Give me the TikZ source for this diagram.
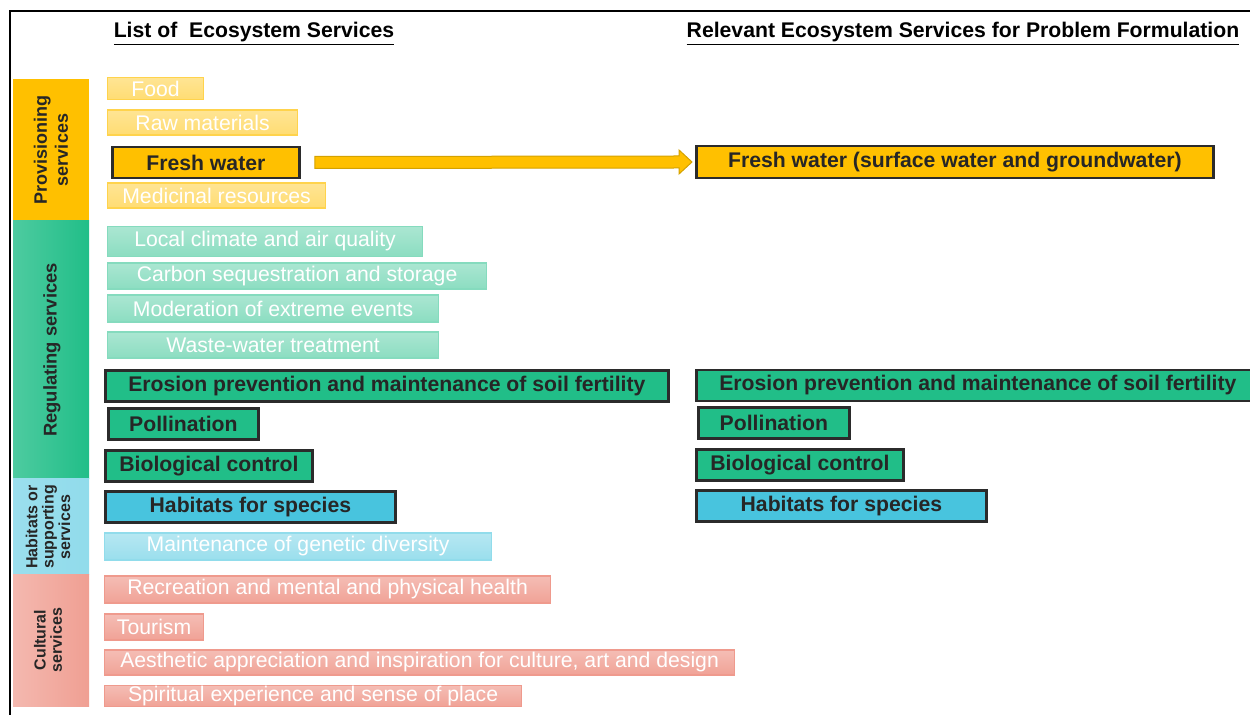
\documentclass[tikz,border=0pt]{standalone}
\usepackage{fontspec}
\setmainfont{Liberation Sans}
\usetikzlibrary{calc}
\usepackage{xcolor}

\definecolor{provgold}{HTML}{FFC000}
\definecolor{provgolddk}{HTML}{D4A200}
\definecolor{regteal}{HTML}{21BE88}
\definecolor{habblue}{HTML}{48C4DE}
\definecolor{cultsalmon}{HTML}{EF9A8D}
\definecolor{keyline}{HTML}{2B2B2B}
\definecolor{keytext}{HTML}{262626}
\newcommand{\pxu}{0.5pt}

\begin{document}
\begin{tikzpicture}[x=0.5pt, y=-0.5pt,
    lite/.style={anchor=west, inner sep=0pt, text=white, line width=0.6pt,
        font=\fontsize{10.6}{12}\selectfont, minimum height=25*\pxu},
    litegold/.style={lite, top color=provgold!42, bottom color=provgold!55, draw=provgold!70},
    litegreen/.style={lite, top color=regteal!38, bottom color=regteal!52, draw=regteal!55},
    liteblue/.style={lite, top color=habblue!40, bottom color=habblue!55, draw=habblue!60},
    litered/.style={lite, top color=cultsalmon!65, bottom color=cultsalmon!92, draw=cultsalmon},
    key/.style={anchor=west, inner sep=0pt, draw=keyline, line width=1.4pt, text=keytext,
        font=\bfseries\fontsize{10.6}{12}\selectfont, minimum height=31*\pxu},
    catlabel/.style={rotate=90, align=center, text=keytext, inner sep=0pt},
    header/.style={font=\bfseries\fontsize{10.6}{12}\selectfont, inner sep=0pt}]

    \useasboundingbox (0,0) rectangle (1250,715);
    \clip (0,0) rectangle (1250,715);

    % moldura
    \draw[line width=1.2pt] (10,730) |- (1260,11);

    % titulos
    \node[header] (hleft) at (254,34) {\underline{List of~ Ecosystem Services}};
    \node[header] (hright) at (963,34) {\underline{Relevant Ecosystem Services for Problem Formulation}};

    % barras das categorias
    \fill[provgold] (13,79) rectangle (89,221);
    \shade[left color=regteal!80, right color=regteal] (13,221) rectangle (89,479);
    \shade[left color=habblue!55, right color=habblue!60] (13,479) rectangle (89,575);
    \shade[left color=cultsalmon!70, right color=cultsalmon!95] (13,575) rectangle (89,707);
    \node[catlabel, font=\bfseries\fontsize{9}{10.5}\selectfont] (provlab) at (51,150) {Provisioning\\services};
    \node[catlabel, font=\bfseries\fontsize{9.2}{10.5}\selectfont] (reglab) at (52,350) {Regulating services};
    \node[catlabel, font=\bfseries\fontsize{8}{8.2}\selectfont] (hablab) at (48,527) {Habitats or\\supporting\\services};
    \node[catlabel, font=\bfseries\fontsize{8}{8.2}\selectfont] (cultlab) at (48,640) {Cultural\\services};

    % lista de servicos
    \node[litegold, minimum width=96*\pxu, minimum height=22*\pxu] (food) at (107,88.5) {Food};
    \node[litegold, minimum width=190*\pxu] (raw) at (107,122.5) {Raw materials};
    \node[key, fill=provgold, minimum width=187*\pxu] (fwL) at (111,162.5) {Fresh water};
    \node[litegold, minimum width=218*\pxu] (medic) at (107,195.5) {Medicinal resources};
    \node[litegreen, minimum width=315*\pxu, minimum height=30*\pxu] (climate) at (107,241.5) {Local climate and air quality};
    \node[litegreen, minimum width=379*\pxu, minimum height=26*\pxu] (carbon) at (107,276) {Carbon sequestration and storage};
    \node[litegreen, minimum width=331*\pxu, minimum height=27*\pxu] (extreme) at (107,308.5) {Moderation of extreme events};
    \node[litegreen, minimum width=331*\pxu, minimum height=26*\pxu] (waste) at (107,345) {Waste-water treatment};
    \node[key, fill=regteal, minimum width=563*\pxu] (erosL) at (104,386) {Erosion prevention and maintenance of soil fertility};
    \node[key, fill=regteal, minimum width=150*\pxu] (pollL) at (107,424) {Pollination};
    \node[key, fill=regteal, minimum width=207*\pxu] (bioL) at (104,466) {Biological control};
    \node[key, fill=habblue, minimum width=290*\pxu] (habL) at (104,507) {Habitats for species};
    \node[liteblue, minimum width=387*\pxu, minimum height=27*\pxu] (genetic) at (104,546.5) {Maintenance of genetic diversity};
    \node[litered, minimum width=446*\pxu, minimum height=27*\pxu] (recre) at (104,589.5) {Recreation and mental and physical health};
    \node[litered, minimum width=99*\pxu, minimum height=26*\pxu] (tour) at (104,627) {Tourism};
    \node[litered, minimum width=630*\pxu] (aesth) at (104,662.5) {Aesthetic appreciation and inspiration for culture, art and design};
    \node[litered, minimum width=417*\pxu, minimum height=21*\pxu] (spirit) at (104,696) {Spiritual experience and sense of place};

    % servicos relevantes
    \node[key, fill=provgold, minimum width=517*\pxu, minimum height=32*\pxu] (fwR) at (695,162) {Fresh water (surface water and groundwater)};
    \node[key, fill=regteal, minimum width=563*\pxu] (erosR) at (695,385.5) {Erosion prevention and maintenance of soil fertility};
    \node[key, fill=regteal, minimum width=151*\pxu] (pollR) at (697,423) {Pollination};
    \node[key, fill=regteal, minimum width=207*\pxu] (bioR) at (695,465) {Biological control};
    \node[key, fill=habblue, minimum width=290*\pxu] (habR) at (695,506) {Habitats for species};

    % seta
    \path (fwL.east) ++(14,0) coordinate (s0);
    \path (fwR.west) ++(-3,0) coordinate (s1);
    \filldraw[fill=provgold, draw=provgolddk, line width=0.5pt]
        ($(s0)+(0,-6)$) -- ($(s1)+(-13,-6)$) -- ($(s1)+(-13,-12)$) -- (s1)
        -- ($(s1)+(-13,12)$) -- ($(s1)+(-13,6)$) -- ($(s0)+(0,6)$) -- cycle;
\end{tikzpicture}
\end{document}
